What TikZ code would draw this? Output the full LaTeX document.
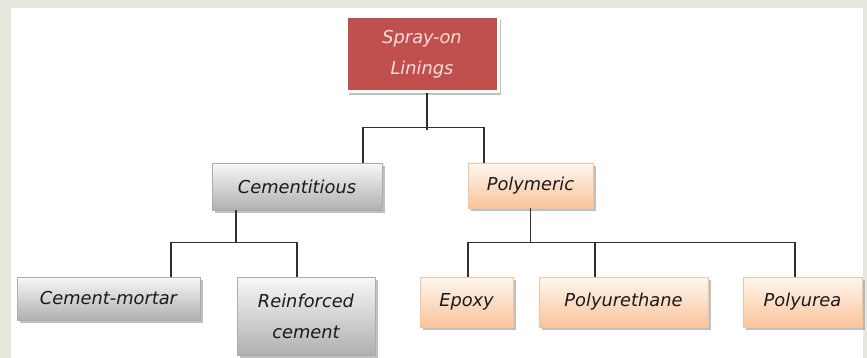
\documentclass[tikz,border=0pt]{standalone}
\usepackage{fontspec}
\setmainfont{DejaVu Sans}
\usetikzlibrary{shadows}
\definecolor{beige}{HTML}{E7E6DC}
\definecolor{redbox}{HTML}{C0504D}
\definecolor{redtext}{HTML}{F5DEDD}
\definecolor{oratop}{HTML}{FFF6EF}
\definecolor{orabot}{HTML}{F9C49A}
\definecolor{oraline}{HTML}{F2C5A2}
\definecolor{linecol}{HTML}{303030}
\definecolor{txt}{HTML}{1A1A1A}
\tikzset{
  base/.style={inner sep=0pt, align=center, text=txt,
    font=\fontsize{17.8}{31}\selectfont\itshape,
    drop shadow={shadow xshift=3pt, shadow yshift=-3pt, fill=gray!70, opacity=0.7}},
  redstyle/.style={base, fill=redbox, draw=white, line width=3pt, text=redtext},
  graystyle/.style={base, top color=gray!6, bottom color=gray!62, draw=gray!65, line width=0.6pt},
  orastyle/.style={base, top color=oratop, bottom color=orabot, draw=oraline, line width=0.6pt},
  conn/.style={draw=linecol, line width=1.5pt}
}
\begin{document}
\begin{tikzpicture}[x=1pt,y=-1pt]
\useasboundingbox (0,0) rectangle (867,358);
\fill[beige] (0,0) rectangle (867,358);
\fill[white] (11,8) rectangle (863,358);

\node[redstyle, minimum width=152pt, minimum height=75pt] (top) at (422,54.5) {Spray-on\\Linings};
\node[graystyle, minimum width=170pt, minimum height=47pt] (cem) at (297,186.5) {Cementitious};
\node[orastyle, minimum width=125pt, minimum height=45pt] (poly) at (530.5,185.5) {Polymeric};
\node[graystyle, minimum width=183pt, minimum height=43pt] (cm) at (108.5,298.5) {Cement-mortar};
\node[graystyle, minimum width=138pt, minimum height=78pt] (rc) at (306,316) {Reinforced\\cement};
\node[orastyle, minimum width=93pt, minimum height=50pt] (ep) at (466.5,302) {Epoxy};
\node[orastyle, minimum width=169pt, minimum height=50pt] (pu) at (623.5,302) {Polyurethane};
\node[orastyle, minimum width=119pt, minimum height=50pt] (pa) at (802.5,302) {Polyurea};

\draw[conn] ([xshift=5pt]top.south) -- ++(0,37);
\draw[conn] ([xshift=66pt]cem.north) -- ++(0,-35) -| ([xshift=-46.5pt]poly.north);
\draw[conn] ([xshift=-61pt]cem.south) -- ++(0,33);
\draw[conn] ([xshift=62.5pt]cm.north) -- ++(0,-34) -| ([xshift=-9pt]rc.north);
\draw[conn] (poly.south) -- ++(0,35);
\draw[conn] ([xshift=1.5pt]ep.north) -- ++(0,-34) -| ([xshift=-7.5pt]pa.north);
\draw[conn] ([xshift=-28.5pt]pu.north) -- ++(0,-34);
\end{tikzpicture}
\end{document}
